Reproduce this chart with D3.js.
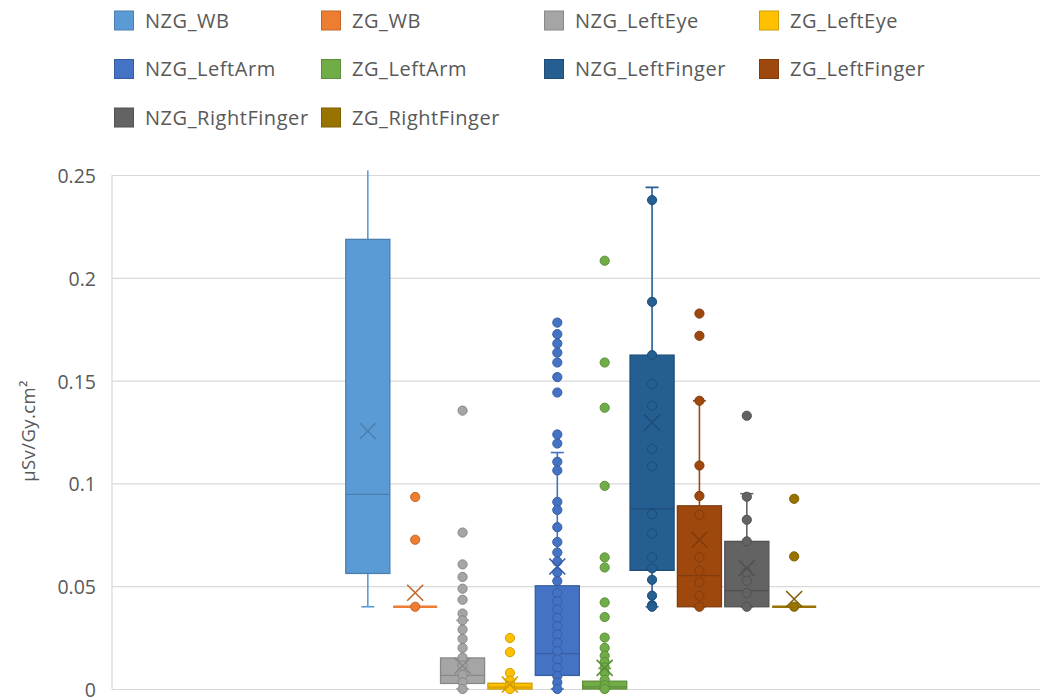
<!DOCTYPE html>
<html>
<head>
<meta charset="utf-8">
<script src="https://cdn.jsdelivr.net/npm/d3@7"></script>
<style>
  body { margin: 0; background: #ffffff; }
  svg text { font-family: "Open Sans", "Noto Sans", "DejaVu Sans", sans-serif; fill: #595959; }
</style>
</head>
<body>
<svg id="chart" width="1040" height="700"></svg>
<script>
// ---- data -------------------------------------------------------------
const categories = ["Dose"];

const seriesNames = [
  "NZG_WB", "ZG_WB", "NZG_LeftEye", "ZG_LeftEye", "NZG_LeftArm",
  "ZG_LeftArm", "NZG_LeftFinger", "ZG_LeftFinger", "NZG_RightFinger", "ZG_RightFinger"
];

const seriesColors = [
  "#5B9BD5", "#ED7D31", "#A5A5A5", "#FFC000", "#4472C4",
  "#70AD47", "#255E91", "#9E480E", "#636363", "#997300"
];

// five-number summaries and means (µSv/Gy.cm²)
const whiskerLow  = [0.040, 0.040, 0.000,  0.000,  0.000,  0.000,  0.040,  0.040,  0.040,  0.040];
const quartile1   = [0.0562, 0.040, 0.0027, 0.000, 0.0066, 0.000,  0.0577, 0.040,  0.040,  0.040];
const medians     = [0.0947, 0.040, 0.0066, 0.0009, 0.0172, 0.0010, 0.0876, 0.0551, 0.0478, 0.040];
const quartile3   = [0.2187, 0.040, 0.0151, 0.0028, 0.0502, 0.0038, 0.1624, 0.0891, 0.0718, 0.040];
const whiskerHigh = [0.2900, 0.040, 0.0334, 0.0045, 0.1150, 0.0100, 0.2440, 0.1402, 0.0950, 0.040];
const means       = [0.1255, 0.0468, 0.0113, 0.0022, 0.0596, 0.0103, 0.1296, 0.0726, 0.0588, 0.0438];

// individual observations drawn as dots
const ptsNZG_WB = [];
const ptsZG_WB = [0.0934, 0.0726, 0.040];
const ptsNZG_LeftEye = [0.1354, 0.0761, 0.0606, 0.0545, 0.0488, 0.0434, 0.0367, 0.0334, 0.0289,
  0.0244, 0.0200, 0.0153, 0.0114, 0.0068, 0.0033, 0.000];
const ptsZG_LeftEye = [0.0248, 0.0179, 0.0078, 0.0040, 0.0015, 0.000];
const ptsNZG_LeftArm = [0.1782, 0.1726, 0.1680, 0.1636, 0.1588, 0.1517, 0.1442, 0.1238, 0.1194,
  0.1105, 0.1063, 0.0910, 0.0871, 0.0787, 0.0715, 0.0664, 0.0620, 0.0567, 0.0525, 0.0467,
  0.0427, 0.0386, 0.0346, 0.0306, 0.0265, 0.0225, 0.0184, 0.0144, 0.0103, 0.0063, 0.0031, 0.000];
const ptsZG_LeftArm = [0.2083, 0.1588, 0.1368, 0.0988, 0.0640, 0.0591, 0.0421, 0.0350, 0.0250,
  0.0200, 0.0162, 0.0132, 0.0105, 0.0077, 0.0045, 0.0018, 0.000];
const ptsNZG_LeftFinger = [0.2378, 0.1883, 0.1624, 0.1483, 0.1378, 0.1168, 0.1083, 0.0850,
  0.0757, 0.0641, 0.0587, 0.0531, 0.0454, 0.0408, 0.0400];
const ptsZG_LeftFinger = [0.1826, 0.1718, 0.1402, 0.1087, 0.0939, 0.0847, 0.0640, 0.0575,
  0.0519, 0.0454, 0.0400];
const ptsNZG_RightFinger = [0.1329, 0.0935, 0.0823, 0.0718, 0.0567, 0.0527, 0.0467, 0.0400];
const ptsZG_RightFinger = [0.0925, 0.0645, 0.0400];

const seriesPoints = [ptsNZG_WB, ptsZG_WB, ptsNZG_LeftEye, ptsZG_LeftEye, ptsNZG_LeftArm,
  ptsZG_LeftArm, ptsNZG_LeftFinger, ptsZG_LeftFinger, ptsNZG_RightFinger, ptsZG_RightFinger];

const yTicks = [0, 0.05, 0.1, 0.15, 0.2, 0.25];
const yTickLabels = ["0", "0.05", "0.1", "0.15", "0.2", "0.25"];
const yTitle = "µSv/Gy.cm²";

// ---- layout ------------------------------------------------------------
const svg = d3.select("#chart");
const plot = { left: 112, right: 1050, top: 175, bottom: 689 };

const y = d3.scaleLinear().domain([0, 0.25]).range([plot.bottom, plot.top]);
const x0 = d3.scaleBand().domain(categories).range([plot.left, plot.right]).paddingOuter(0.49);
const x1 = d3.scaleBand().domain(seriesNames).range([0, x0.bandwidth()])
  .paddingInner(0.07).paddingOuter(0.035);

const boxes = seriesNames.map((name, i) => ({
  name, color: seriesColors[i], dark: d3.color(seriesColors[i]).darker(0.55).formatHex(),
  lo: whiskerLow[i], q1: quartile1[i], med: medians[i], q3: quartile3[i],
  hi: whiskerHigh[i], mean: means[i], pts: seriesPoints[i]
}));

// gridlines
const grid = svg.append("g")
  .attr("transform", `translate(${plot.left},0)`)
  .call(d3.axisLeft(y).tickValues(yTicks).tickSize(-(plot.right - plot.left)).tickFormat(""));
grid.select(".domain").remove();
grid.selectAll("line").attr("stroke", "#D9D9D9").attr("stroke-width", 1.2);

// y axis labels
const yAxis = svg.append("g")
  .attr("transform", `translate(${plot.left},0)`)
  .call(d3.axisLeft(y).tickValues(yTicks).tickSize(0).tickPadding(16)
    .tickFormat((d, i) => yTickLabels[i]));
yAxis.select(".domain").remove();
yAxis.selectAll("text")
  .attr("font-size", 19.5).attr("fill", "#595959").attr("dy", "0.38em")
  .style("font-family", '"Open Sans", "Noto Sans", sans-serif');

// vertical axis line
svg.append("line")
  .attr("x1", plot.left).attr("x2", plot.left)
  .attr("y1", y(0.25)).attr("y2", y(0))
  .attr("stroke", "#D9D9D9").attr("stroke-width", 1.2);

// axis title
svg.append("text")
  .attr("transform", `translate(35,${431}) rotate(-90)`)
  .attr("text-anchor", "middle")
  .attr("font-size", 18.5)
  .attr("letter-spacing", 0.4)
  .text(yTitle);

// clip region for the marks
svg.append("clipPath").attr("id", "plotClip")
  .append("rect").attr("x", plot.left).attr("y", plot.top - 4.5)
  .attr("width", plot.right - plot.left).attr("height", 700 - plot.top + 4.5);

const marks = svg.append("g").attr("clip-path", "url(#plotClip)");

const series = marks.selectAll("g.series").data(boxes).join("g")
  .attr("class", "series")
  .attr("transform", d => `translate(${x0(categories[0]) + x1(d.name)},0)`);

const bw = x1.bandwidth();
const cx = bw / 2;
const capHalf = 6.5;

// whiskers
series.append("line")
  .attr("x1", cx).attr("x2", cx)
  .attr("y1", d => y(d.q3)).attr("y2", d => y(d.hi))
  .attr("stroke", d => d.color).attr("stroke-width", 1.6);
series.append("line")
  .attr("x1", cx).attr("x2", cx)
  .attr("y1", d => y(d.q1)).attr("y2", d => y(d.lo))
  .attr("stroke", d => d.color).attr("stroke-width", 1.6);
series.append("line")
  .attr("x1", cx - capHalf).attr("x2", cx + capHalf)
  .attr("y1", d => y(d.hi)).attr("y2", d => y(d.hi))
  .attr("stroke", d => d.color).attr("stroke-width", 1.6);
series.append("line")
  .attr("x1", cx - capHalf).attr("x2", cx + capHalf)
  .attr("y1", d => y(d.lo)).attr("y2", d => y(d.lo))
  .attr("stroke", d => d.color).attr("stroke-width", 1.6);

// boxes
series.append("rect")
  .attr("x", 0).attr("width", bw)
  .attr("y", d => y(d.q3))
  .attr("height", d => Math.max(0, y(d.q1) - y(d.q3)))
  .attr("fill", d => d.color)
  .attr("stroke", d => d.q3 === d.q1 ? d.color : d.dark)
  .attr("stroke-width", d => d.q3 === d.q1 ? 2.6 : 1.3);

// median lines
series.append("line")
  .attr("x1", 0).attr("x2", bw)
  .attr("y1", d => y(d.med)).attr("y2", d => y(d.med))
  .attr("stroke", d => d.q3 === d.q1 ? d.color : d.dark)
  .attr("stroke-width", d => d.q3 === d.q1 ? 2.6 : 1.3);

// data points
series.selectAll("circle")
  .data(d => d.pts.map(v => ({ v, color: d.color, dark: d.dark })))
  .join("circle")
  .attr("cx", cx).attr("cy", d => y(d.v)).attr("r", 4.6)
  .attr("fill", d => d.color).attr("stroke", d => d.dark).attr("stroke-width", 1);

// mean markers
const mh = 8;
series.append("path")
  .attr("d", d => {
    const my = y(d.mean);
    return `M${cx - mh},${my - mh}L${cx + mh},${my + mh}M${cx - mh},${my + mh}L${cx + mh},${my - mh}`;
  })
  .attr("fill", "none").attr("stroke", d => d.dark).attr("stroke-width", 1.6);

// legend
const legendCols = [114, 321, 544, 759];
const legendRows = [20.5, 69, 117.5];
const legend = svg.append("g").selectAll("g").data(boxes).join("g")
  .attr("transform", (d, i) => `translate(${legendCols[i % 4]},${legendRows[Math.floor(i / 4)]})`);
legend.append("rect")
  .attr("x", 0.5).attr("y", -9.5).attr("width", 19).attr("height", 19)
  .attr("fill", d => d.color).attr("stroke", d => d.dark).attr("stroke-width", 1);
legend.append("text")
  .attr("x", 31).attr("y", 0).attr("dy", "0.36em")
  .attr("font-size", 20)
  .attr("letter-spacing", 0.55)
  .text(d => d.name);
</script>
</body>
</html>
